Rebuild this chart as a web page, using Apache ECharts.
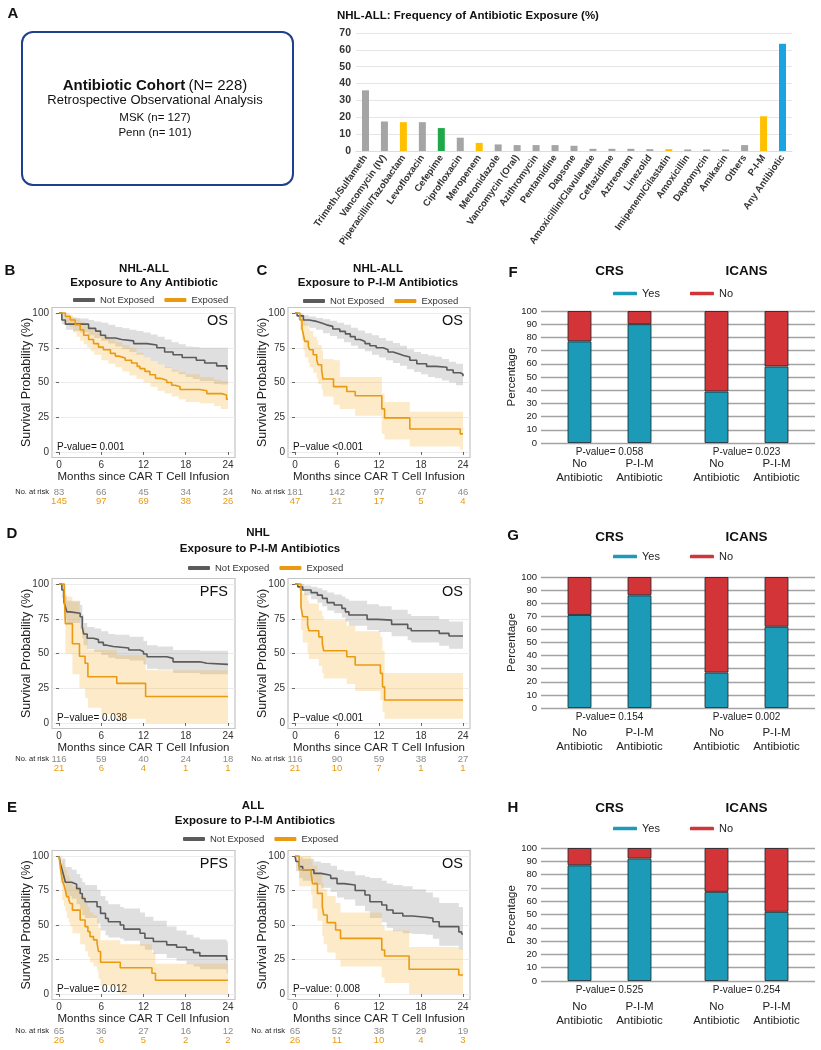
<!DOCTYPE html>
<html>
<head>
<meta charset="utf-8">
<title>Antibiotic exposure and CAR T outcomes</title>
<script src="https://cdn.jsdelivr.net/npm/echarts@6.0.0/dist/echarts.min.js"></script>
<style>
  html, body { margin: 0; padding: 0; background: #fff; }
  #chart { width: 821px; height: 1050px; }
</style>
</head>
<body>
<div id="chart"></div>
<script>
// ---------- panel A: frequency of antibiotic exposure ----------
const abxNames = ['Trimeth./Sulfameth', 'Vancomycin (IV)', 'Piperacillin/Tazobactam', 'Levofloxacin', 'Cefepime',
  'Ciprofloxacin', 'Meropenem', 'Metronidazole', 'Vancomycin (Oral)', 'Azithromycin', 'Pentamidine', 'Dapsone',
  'Amoxicillin/Clavulanate', 'Ceftazidime', 'Aztreonam', 'Linezolid', 'Imipenem/Cilastatin', 'Amoxicillin',
  'Daptomycin', 'Amikacin', 'Others', 'P-I-M', 'Any Antibiotic']
const abxFreq = [36.0, 17.5, 17.1, 17.1, 13.6, 7.9, 4.8, 3.9, 3.5, 3.5, 3.5, 3.1, 1.3, 1.3, 1.3, 1.1, 1.1, 0.9, 0.9, 0.9, 3.5, 20.6, 63.6]
const pimNames = ['Piperacillin/Tazobactam', 'Meropenem', 'Imipenem/Cilastatin', 'P-I-M']

// ---------- Kaplan-Meier curves: [month, survival %] (value holds until next step) ----------
const bNot = [[0,100],[0.4,95],[0.9,92],[4.2,89],[5.2,87],[5.9,84],[6.6,82],[8.0,81],[8.9,80],[10.6,78],[12.5,77],[13.9,75],
  [15.0,72],[16.2,70],[17.5,68],[19.5,66],[20.7,64],[22.4,62],[23.8,60],[24,60]]
const bExp = [[0,100],[0.9,97.6],[1.6,95],[2.3,91.6],[3.0,88],[3.5,84],[4.2,81],[4.9,78],[5.6,75.5],[6.3,73.6],[7.3,71],[8.0,69],
  [8.5,67.6],[9.4,66],[10.3,64],[11.1,61.6],[11.5,60],[12.2,58],[12.9,55.6],[13.7,53],[14.4,51.6],[15.3,50],[16.0,48],[16.5,47],
  [17.2,45],[20.0,44],[21.0,42],[23.1,41],[23.8,38],[24,38]]
const cNot = [[0,100],[0.3,98],[1.2,95],[2,94],[3.1,92.8],[3.8,91.5],[4.5,90.4],[5.4,88.5],[6.4,86.8],[7.2,85],[7.9,83],[8.6,81],
  [9.3,79.6],[10,78],[10.7,76.5],[11.6,75],[12.6,73.6],[13.3,72],[14.0,70.7],[14.8,69.5],[15.5,68.3],[16.4,66],[17.4,63.5],
  [18.8,61.6],[20.2,61],[21.7,59],[22.6,57],[23.6,56],[24,54.5]]
const cExp = [[0,100],[0.7,95],[1.0,89],[1.2,84.4],[1.4,79.6],[1.9,76],[2.1,73.6],[2.6,70],[3.1,66.4],[3.3,62.8],[3.8,59],
  [4.0,52.5],[5.5,47],[7.4,43.5],[8.6,40.5],[12.4,31],[12.8,24.5],[16.4,16.5],[23.6,13],[24,13]]
const dPfsNot = [[0,100],[0.4,95.7],[0.7,87],[0.9,83.7],[1.1,80],[1.6,79],[3.0,76.5],[3.3,69],[3.5,64],[4.0,61],[4.9,60],[5.6,58],
  [6.3,56],[6.8,55],[7.7,54],[9.9,52.5],[11.5,51.3],[12.0,49.6],[12.5,47.7],[15.3,46.5],[16.2,44],[20.0,43],[21.0,42.2],[24,42.2]]
const dPfsExp = [[0,100],[0.75,92],[0.9,71.5],[1.9,57],[2.9,48],[3.7,43],[4.1,33.3],[8.2,28.5],[12.3,19],[24,19]]
const dOsNot = [[0,100],[0.4,98],[1.1,95.7],[2.3,93.8],[3.2,92],[3.9,89.7],[4.6,86.6],[5.6,84.9],[6.7,82.5],[7.2,80],[7.7,77.7],
  [10.3,74.6],[11.8,74],[13.8,71],[16.1,68],[16.6,66.4],[20.6,64.5],[22,62.6],[24,62.6]]
const dOsExp = [[0,100],[0.85,83.7],[1.1,76.5],[1.8,70.5],[2.0,66.4],[3.4,62],[3.9,57],[4.1,52],[7.4,47.7],[8.6,41.7],
  [12.2,35.7],[12.5,26],[12.8,16.5],[24,16.5]]
const ePfsNot = [[0,100],[0.2,94.5],[0.45,89.7],[0.7,85],[0.9,81],[1.8,79.6],[2.5,76.4],[3.0,72.8],[3.3,69.2],[3.7,66.8],
  [5.4,63.2],[5.9,58.4],[6.6,54.8],[7.0,52.4],[8.7,50],[9.2,47],[11.5,44],[12.2,40.4],[13.4,38],[15.3,35.6],[16.7,33.9],
  [18.1,32],[19.1,30],[20.0,27.6],[23.8,25],[24,25]]
const ePfsExp = [[0,100],[0.2,90.9],[0.45,82.5],[0.7,79],[0.9,75.2],[1.1,70.4],[1.4,68],[1.6,65.6],[1.9,60.8],[3.0,53.6],
  [3.7,48.8],[4.1,45.2],[4.4,41.6],[4.9,39.2],[5.4,36.8],[5.6,30.8],[5.9,23],[8.7,19],[13.2,15],[13.7,10],[24,10]]
const eOsNot = [[0,100],[0.15,96],[0.6,92.3],[1.1,90],[2.7,87.4],[3.7,86],[5.1,83.8],[6.0,80],[7.0,79],[8.6,75],[10.0,71.7],
  [10.7,66.9],[12.4,64.5],[13.1,60.9],[14.0,58.5],[15.4,56.5],[16.8,55.6],[18.7,55],[19.7,52.4],[20.6,48.8],[23.4,45],
  [23.8,43.5],[24,43.5]]
const eOsExp = [[0,100],[0.6,90],[2.3,87.4],[2.5,80],[3.2,72.9],[3.9,63.3],[4.1,57.2],[4.6,51.7],[5.8,46.4],[6.5,40.3],
  [12.4,31.9],[12.8,27.5],[16.3,17.9],[23.4,13.8],[24,13.8]]

// 95% CI bands: [month, lower, upper]
const bNotCI = [[0,100,100],[0.4,92,99.5],[1,88,97],[2,87,96.5],[3,86,96],[4.2,84,95],[5,82,94],[6,80,93],[7,78,91.5],[8,76,90],
  [9,74,89],[10,72,88],[11,70,87],[12,68,86],[13,65.5,84.5],[14,63,83],[15,60.5,81],[16,58,79],[17,56,77.5],[18,54,76],
  [19,52.5,75.5],[20,51,75],[22,49,75],[23,48.5,75],[24,48,75]]
const bExpCI = [[0,100,100],[0.9,93,100],[1.5,90,98.5],[2,86,97],[2.5,83,95.5],[3,80,94],[3.5,77.5,92],[4,75,90],[4.5,72.5,88],
  [5,70,86],[6,66,84],[7,63.5,81.5],[8,61,79],[9,58,77],[10,55,75],[11,52.5,71.5],[12,50,68],[13,47,65.5],[14,44,63],[15,42,61],
  [16,40,59],[17,38,57.5],[18,36,56],[20,35,54],[22,33,52],[23,31,51],[24,29,50]]
const cNotCI = [[0,100,100],[0.5,95,99.5],[1.2,91,98.5],[2,89.5,97.5],[3,88,96.5],[4,85.5,95.5],[5,83.5,94.5],[6,81.5,93],
  [7,79,91.5],[8,76.5,89.5],[9,74.5,87.5],[10,72.5,85.5],[11,70,84],[12,68,82],[13,66,80],[14,64,78.5],[15,62,76.5],
  [16,59.5,74],[17,57.5,72],[18,56,70.5],[19,54,69.5],[20,53,68.5],[21,51.5,67],[22,50,65],[23,48,63.5],[24,47,62]]
const cExpCI = [[0,100,100],[0.7,88,100],[1.0,80,98],[1.2,73,96],[1.4,68,92],[1.9,64,89],[2.1,61,87],[2.6,57,83],[3.1,53,80],
  [3.3,49,77],[3.8,45,73],[4.0,40,67],[5.5,34,66],[6.4,31,54],[8.6,26,54],[12.4,13,42],[12.8,9,36],[16.4,4,29],[23.6,1.7,29],[24,1.7,29]]
const dPfsNotCI = [[0,100,100],[0.4,90,100],[0.7,79,95],[0.9,75,92],[1.1,72,88],[3.0,68,85],[3.3,61,78],[3.5,56,72],[4.0,53,69],
  [5,51,68],[6,49,66],[7,47,64],[8,46,63.5],[10,45,62],[12,42,59],[12.5,39,56],[14,38.5,55],[16.2,36,52.5],[20,35,52],[24,34,52]]
const dPfsExpCI = [[0,100,100],[0.75,74,100],[0.9,50,91],[1.9,35,87],[2.9,25,79],[3.0,25,69],[3.7,18,63],[4.1,11,52.5],[6,6,52.5],
  [8.2,3,49],[12.3,0,38],[24,0,38]]
const dOsNotCI = [[0,100,100],[0.6,95,100],[1.3,92,99],[2.3,89,98],[3.2,86.5,97],[3.9,84,95.5],[4.6,81,94],[5.6,79,92.5],
  [6.7,76,91],[7.2,73,89.5],[7.7,70,88],[10.3,67,85.5],[12,65.5,84],[13.8,62.5,81.5],[16.1,59.5,78.5],[16.6,58,77],
  [20.6,55.5,74.5],[22,53.5,73],[24,53,73]]
const dOsExpCI = [[0,100,100],[0.85,67,97],[1.1,58,93],[1.8,50,88],[2.0,46,86],[3.4,41,81],[3.9,36,77],[4.1,32,74],[7.4,28,70],
  [8.6,23,66],[12.2,16.5,62],[12.5,8,52],[12.8,3,36],[24,3,36]]
const ePfsNotCI = [[0,100,100],[0.45,80,98],[0.9,71,92],[1.8,69,90],[2.5,65,87],[3.0,61,84],[3.3,57,81],[3.7,55,79],[5.4,51,75.5],
  [5.9,46,71],[6.6,42.5,67.5],[7,41,65],[8.7,40,63],[9.2,38.5,62],[11.5,35,59],[12.2,32,56],[13.4,29,53],[15.3,26,49],
  [16.7,24,46],[18.1,21.5,43],[19.1,20,41],[20,18,39.5],[23.8,15,38],[24,15,38]]
const ePfsExpCI = [[0,100,100],[0.2,80,100],[0.45,68,96],[0.7,64,93],[0.9,60,90],[1.1,55,86],[1.4,52,84],[1.6,49,82],[1.9,44,78],
  [3.0,36,71],[3.7,31,66],[4.1,27,63],[4.4,23,59],[4.9,20,57],[5.4,17,54],[5.6,11,48],[5.9,6,39],[8.7,0,36],[13.2,0,30],
  [13.7,0,22],[24,0,22]]
const eOsNotCI = [[0,100,100],[0.15,89,100],[0.6,84,99],[1.1,82,98],[2.7,79,96],[3.7,77,95],[5.1,74,93],[6,70,90],[7,68.5,89],
  [8.6,64,86],[10,60,85],[10.7,55,84],[12.4,52,82],[13.1,48,80],[14,45.5,79],[15.4,44,78],[16.8,43.5,76],[18.7,43,73.5],
  [19.7,40,70],[20.6,35,66],[23.4,32,63],[24,32,63]]
const eOsExpCI = [[0,100,100],[0.6,78,100],[2.3,72,97],[2.5,62,93],[3.2,53,87],[3.9,42,80],[4.1,36,76],[4.6,30,71],[5.8,25,66],
  [6.5,20,59],[12.4,12,50],[12.8,8,46],[16.3,0,34],[23.4,0,32],[24,0,32]]

// numbers at risk at 0, 6, 12, 18, 24 months
const monthTicks = [0, 6, 12, 18, 24]
const bRiskNot = [83, 66, 45, 34, 24], bRiskExp = [145, 97, 69, 38, 26]
const cRiskNot = [181, 142, 97, 67, 46], cRiskExp = [47, 21, 17, 5, 4]
const dPfsRiskNot = [116, 59, 40, 24, 18], dPfsRiskExp = [21, 6, 4, 1, 1]
const dOsRiskNot = [116, 90, 59, 38, 27], dOsRiskExp = [21, 10, 7, 1, 1]
const ePfsRiskNot = [65, 36, 27, 16, 12], ePfsRiskExp = [26, 6, 5, 2, 2]
const eOsRiskNot = [65, 52, 38, 29, 19], eOsRiskExp = [26, 11, 10, 4, 3]

// ---------- panels F-H: CRS / ICANS (%), [CRS, ICANS] ----------
const toxGroups = ['CRS', 'ICANS']
const fNoAbYes = [77, 39], fNoAbNo = [23, 61], fPimYes = [90, 58], fPimNo = [10, 42]
const gNoAbYes = [71, 27], gNoAbNo = [29, 73], gPimYes = [86, 62], gPimNo = [14, 38]
const hNoAbYes = [87, 67], hNoAbNo = [13, 33], hPimYes = [92, 52], hPimNo = [8, 48]
const fPvals = ['P-value= 0.058', 'P-value= 0.023']
const gPvals = ['P-value= 0.154', 'P-value= 0.002']
const hPvals = ['P-value= 0.525', 'P-value= 0.254']

const FONT = "'Liberation Sans', Arial, sans-serif"
const GRAY = '#5b5b5b', ORANGE = '#ea9a10'
const GRAY_BAND = 'rgba(150,150,150,0.30)', ORANGE_BAND = 'rgba(246,178,52,0.27)'
const TEAL = '#1b9bb7', RED = '#d23438'

const chart = echarts.init(document.getElementById('chart'))
const grid = [], xAxis = [], yAxis = [], series = [], legend = [], graphic = []

function txt(x, y, text, size, extra) {
  graphic.push({
    type: 'text', x: x, y: y, silent: true,
    style: Object.assign({
      text: text, fontSize: size, fontFamily: FONT, fill: '#111',
      textAlign: 'center', textVerticalAlign: 'middle'
    }, extra || {})
  })
}

// ---- A ----
grid.push({left: 356, top: 33, width: 436, height: 118, outerBoundsMode: 'none', containLabel: false})
xAxis.push({
  gridIndex: 0, type: 'category', data: abxNames,
  axisLine: {lineStyle: {color: '#dcdcdc'}}, axisTick: {show: false},
  axisLabel: {interval: 0, rotate: 55, fontSize: 9.5, fontWeight: 'bold', color: '#333', margin: 5}
})
yAxis.push({
  gridIndex: 0, type: 'value', min: 0, max: 70, interval: 10,
  axisLine: {show: false}, axisTick: {show: false},
  axisLabel: {fontSize: 10.5, fontWeight: 'bold', color: '#333', margin: 5},
  splitLine: {lineStyle: {color: '#e6e6e6'}}
})
series.push({
  type: 'bar', xAxisIndex: 0, yAxisIndex: 0, data: abxFreq, barWidth: 7, silent: true,
  itemStyle: {
    color: function (p) {
      const n = abxNames[p.dataIndex]
      if (n === 'Any Antibiotic') return '#1ca4e2'
      if (n === 'Cefepime') return '#1fa84a'
      if (pimNames.indexOf(n) >= 0) return '#ffc000'
      return '#a5a5a5'
    }
  }
})

graphic.push({
  type: 'rect', silent: true,
  shape: {x: 22, y: 32, width: 271, height: 153, r: 11},
  style: {fill: 'none', stroke: '#1f3f8f', lineWidth: 2}
})
graphic.push({
  type: 'text', x: 155, y: 86, silent: true,
  style: {
    text: '{b|Antibiotic Cohort} {n|(N= 228)}', textAlign: 'center', textVerticalAlign: 'middle',
    rich: {
      b: {fontSize: 15, fontWeight: 'bold', fontFamily: FONT, fill: '#111'},
      n: {fontSize: 15, fontFamily: FONT, fill: '#111'}
    }
  }
})
txt(155, 100, 'Retrospective Observational Analysis', 13)
txt(155, 118, 'MSK (n= 127)', 11.5)
txt(155, 133, 'Penn (n= 101)', 11.5)
txt(337, 16, 'NHL-ALL: Frequency of Antibiotic Exposure (%)', 11.5, {textAlign: 'left', fontWeight: 'bold'})

// ---- B-E: Kaplan-Meier panels ----
const kmPanels = [
  {left: 52, top: 307.5, width: 183, height: 150, riskOff: [34.5, 43.5], tag: 'OS', p: 'P-value= 0.001',
    not: bNot, exp: bExp, notCI: bNotCI, expCI: bExpCI, riskNot: bRiskNot, riskExp: bRiskExp},
  {left: 288, top: 307.5, width: 182, height: 150, riskOff: [34.5, 43.5], tag: 'OS', p: 'P\u2212value <0.001',
    not: cNot, exp: cExp, notCI: cNotCI, expCI: cExpCI, riskNot: cRiskNot, riskExp: cRiskExp},
  {left: 52, top: 578.5, width: 183, height: 150, riskOff: [30.5, 39.5], tag: 'PFS', p: 'P\u2212value= 0.038',
    not: dPfsNot, exp: dPfsExp, notCI: dPfsNotCI, expCI: dPfsExpCI, riskNot: dPfsRiskNot, riskExp: dPfsRiskExp},
  {left: 288, top: 578.5, width: 182, height: 150, riskOff: [30.5, 39.5], tag: 'OS', p: 'P\u2212value <0.001',
    not: dOsNot, exp: dOsExp, notCI: dOsNotCI, expCI: dOsExpCI, riskNot: dOsRiskNot, riskExp: dOsRiskExp},
  {left: 52, top: 850.5, width: 183, height: 149, riskOff: [31.5, 40.5], tag: 'PFS', p: 'P\u2212value= 0.012',
    not: ePfsNot, exp: ePfsExp, notCI: ePfsNotCI, expCI: ePfsExpCI, riskNot: ePfsRiskNot, riskExp: ePfsRiskExp},
  {left: 288, top: 850.5, width: 182, height: 149, riskOff: [31.5, 40.5], tag: 'OS', p: 'P\u2212value: 0.008',
    not: eOsNot, exp: eOsExp, notCI: eOsNotCI, expCI: eOsExpCI, riskNot: eOsRiskNot, riskExp: eOsRiskExp}
]

function riskAxis(gi, off, counts, color, withName) {
  return {
    gridIndex: gi, type: 'value', position: 'bottom', offset: off, min: -1, max: 25,
    axisLine: {show: false}, axisTick: {show: false}, splitLine: {show: false},
    axisLabel: {
      customValues: monthTicks, margin: 0, verticalAlign: 'middle', fontSize: 9.5, color: color,
      formatter: function (v) { return String(counts[Math.round(v / 6)]) }
    },
    name: withName ? 'No. at risk' : '', nameLocation: 'start', nameGap: 3, nameMoveOverlap: false,
    nameTextStyle: {fontSize: 7.5, color: '#222', align: 'right', verticalAlign: 'middle'}
  }
}

function bandSeries(band, xi, yi, fill) {
  return {
    type: 'custom', xAxisIndex: xi, yAxisIndex: yi, silent: true, z: 1, data: [[0, 0]],
    renderItem: function (params, api) {
      const up = [], lo = []
      for (let i = 0; i < band.length; i++) {
        const t0 = band[i][0], t1 = i + 1 < band.length ? band[i + 1][0] : 24
        up.push(api.coord([t0, band[i][2]]), api.coord([t1, band[i][2]]))
        lo.push(api.coord([t0, band[i][1]]), api.coord([t1, band[i][1]]))
      }
      return {type: 'polygon', shape: {points: up.concat(lo.reverse())}, style: {fill: fill}}
    }
  }
}

function kmLine(name, data, xi, yi, color) {
  return {
    type: 'line', name: name, xAxisIndex: xi, yAxisIndex: yi, data: data, step: 'end',
    showSymbol: false, symbol: 'none', silent: true, z: 3,
    lineStyle: {color: color, width: 1.6}, itemStyle: {color: color}
  }
}

kmPanels.forEach(function (k) {
  const gi = grid.length
  grid.push({left: k.left, top: k.top, width: k.width, height: k.height, show: true,
    borderColor: '#c4c4c4', borderWidth: 1.2, outerBoundsMode: 'none', containLabel: false})
  const xi = xAxis.length
  xAxis.push({
    gridIndex: gi, type: 'value', min: -1, max: 25, position: 'bottom',
    name: 'Months since CAR T Cell Infusion', nameLocation: 'middle', nameGap: 13.5, nameMoveOverlap: false,
    nameTextStyle: {fontSize: 11.5, color: '#222'},
    axisLine: {show: false},
    axisTick: {show: true, customValues: monthTicks, length: 3, lineStyle: {color: '#666'}},
    axisLabel: {customValues: monthTicks, fontSize: 10, color: '#333', margin: 3},
    splitLine: {show: false}
  })
  xAxis.push(riskAxis(gi, k.riskOff[0], k.riskNot, '#8a8a8a', true))
  xAxis.push(riskAxis(gi, k.riskOff[1], k.riskExp, ORANGE, false))
  const yi = yAxis.length
  yAxis.push({
    gridIndex: gi, type: 'value', min: -4, max: 104,
    name: 'Survival Probability (%)', nameLocation: 'middle', nameGap: 19, nameMoveOverlap: false,
    nameTextStyle: {fontSize: 12.5, color: '#222'},
    axisLine: {show: false},
    axisTick: {show: true, customValues: [0, 25, 50, 75, 100], length: 3, lineStyle: {color: '#666'}},
    axisLabel: {customValues: [0, 25, 50, 75, 100], fontSize: 10, color: '#333', margin: 3},
    splitLine: {show: true, lineStyle: {color: '#ececec', width: 1}}
  })
  series.push(bandSeries(k.notCI, xi, yi, GRAY_BAND))
  series.push(bandSeries(k.expCI, xi, yi, ORANGE_BAND))
  series.push(kmLine('Not Exposed', k.not, xi, yi, GRAY))
  series.push(kmLine('Exposed', k.exp, xi, yi, ORANGE))
  txt(k.left + k.width - 7, k.top + 13, k.tag, 14.5, {textAlign: 'right'})
  txt(k.left + 5, k.top + k.height - 10, k.p, 10, {textAlign: 'left'})
})

function kmLegend(left, cy) {
  return {
    data: ['Not Exposed', 'Exposed'], left: left, top: cy - 6, padding: 0, selectedMode: false,
    icon: 'roundRect', itemWidth: 22, itemHeight: 4, itemGap: 10,
    textStyle: {fontSize: 9.5, color: '#333'}
  }
}
legend.push(kmLegend(73, 301), kmLegend(303, 302), kmLegend(188, 569), kmLegend(183, 840))

// panel letters and KM titles
const letters = [['A', 13, 14], ['B', 10, 271], ['C', 262, 271], ['D', 12, 534], ['E', 12, 808],
  ['F', 513, 273], ['G', 513, 536], ['H', 513, 808]]
letters.forEach(function (l) { txt(l[1], l[2], l[0], 15, {fontWeight: 'bold'}) })
const bold = {fontWeight: 'bold'}
txt(144, 269, 'NHL-ALL', 11.5, bold)
txt(144, 283, 'Exposure to Any Antibiotic', 11.5, bold)
txt(378, 269, 'NHL-ALL', 11.5, bold)
txt(378, 283, 'Exposure to P-I-M Antibiotics', 11.5, bold)
txt(258, 533, 'NHL', 11.5, bold)
txt(260, 549, 'Exposure to P-I-M Antibiotics', 11.5, bold)
txt(253, 806, 'ALL', 11.5, bold)
txt(255, 821, 'Exposure to P-I-M Antibiotics', 11.5, bold)

// ---- F-H: stacked CRS / ICANS bars ----
const toxPanels = [
  {top: 311, height: 132, labelDist: 14, legendY: 294, noAbYes: fNoAbYes, noAbNo: fNoAbNo, pimYes: fPimYes, pimNo: fPimNo, pv: fPvals},
  {top: 577, height: 131, labelDist: 18, legendY: 557, noAbYes: gNoAbYes, noAbNo: gNoAbNo, pimYes: gPimYes, pimNo: gPimNo, pv: gPvals},
  {top: 848, height: 133, labelDist: 19, legendY: 829, noAbYes: hNoAbYes, noAbNo: hNoAbNo, pimYes: hPimYes, pimNo: hPimNo, pv: hPvals}
]

toxPanels.forEach(function (t, n) {
  const gi = grid.length
  grid.push({left: 541, top: t.top, width: 274, height: t.height, outerBoundsMode: 'none', containLabel: false})
  const xi = xAxis.length
  xAxis.push({
    gridIndex: gi, type: 'category', data: toxGroups, position: 'bottom',
    axisLine: {show: false}, axisTick: {show: false},
    axisLabel: {fontSize: 10, color: '#222', margin: 4, formatter: function (v, i) { return t.pv[i] }}
  })
  xAxis.push({
    gridIndex: gi, type: 'category', data: toxGroups, position: 'top',
    axisLine: {show: false}, axisTick: {show: false},
    axisLabel: {fontSize: 13.5, fontWeight: 'bold', color: '#111', margin: 33}
  })
  const yi = yAxis.length
  yAxis.push({
    gridIndex: gi, type: 'value', min: 0, max: 100, interval: 10,
    name: 'Percentage', nameLocation: 'middle', nameGap: 23, nameMoveOverlap: false,
    nameTextStyle: {fontSize: 11.5, color: '#222'},
    axisLine: {show: false}, axisTick: {show: false},
    axisLabel: {fontSize: 9.5, color: '#222', margin: 4},
    splitLine: {lineStyle: {color: '#a3a3a3', width: 1.3}}
  })
  const common = {type: 'bar', xAxisIndex: xi, yAxisIndex: yi, barWidth: 24, barGap: '150%', silent: true}
  const border = {borderColor: 'rgba(25,35,40,0.8)', borderWidth: 1}
  const lab = function (text) {
    return {show: true, position: 'bottom', distance: t.labelDist, formatter: text,
      fontSize: 11.5, lineHeight: 14, color: '#222'}
  }
  series.push(Object.assign({name: 'Yes', stack: 'noab' + n, data: t.noAbYes,
    itemStyle: Object.assign({color: TEAL}, border), label: lab('No\nAntibiotic')}, common))
  series.push(Object.assign({name: 'No', stack: 'noab' + n, data: t.noAbNo,
    itemStyle: Object.assign({color: RED}, border)}, common))
  series.push(Object.assign({name: 'Yes', stack: 'pim' + n, data: t.pimYes,
    itemStyle: Object.assign({color: TEAL}, border), label: lab('P-I-M\nAntibiotic')}, common))
  series.push(Object.assign({name: 'No', stack: 'pim' + n, data: t.pimNo,
    itemStyle: Object.assign({color: RED}, border)}, common))
  legend.push({
    data: ['Yes', 'No'], left: 613, top: t.legendY - 6, padding: 0, selectedMode: false,
    icon: 'roundRect', itemWidth: 24, itemHeight: 3.5, itemGap: 30,
    itemStyle: {borderWidth: 0}, textStyle: {fontSize: 11, color: '#222'}
  })
})

chart.setOption({
  animation: false,
  backgroundColor: '#fff',
  textStyle: {fontFamily: FONT},
  grid: grid,
  xAxis: xAxis,
  yAxis: yAxis,
  legend: legend,
  series: series,
  graphic: graphic
})
</script>
</body>
</html>
